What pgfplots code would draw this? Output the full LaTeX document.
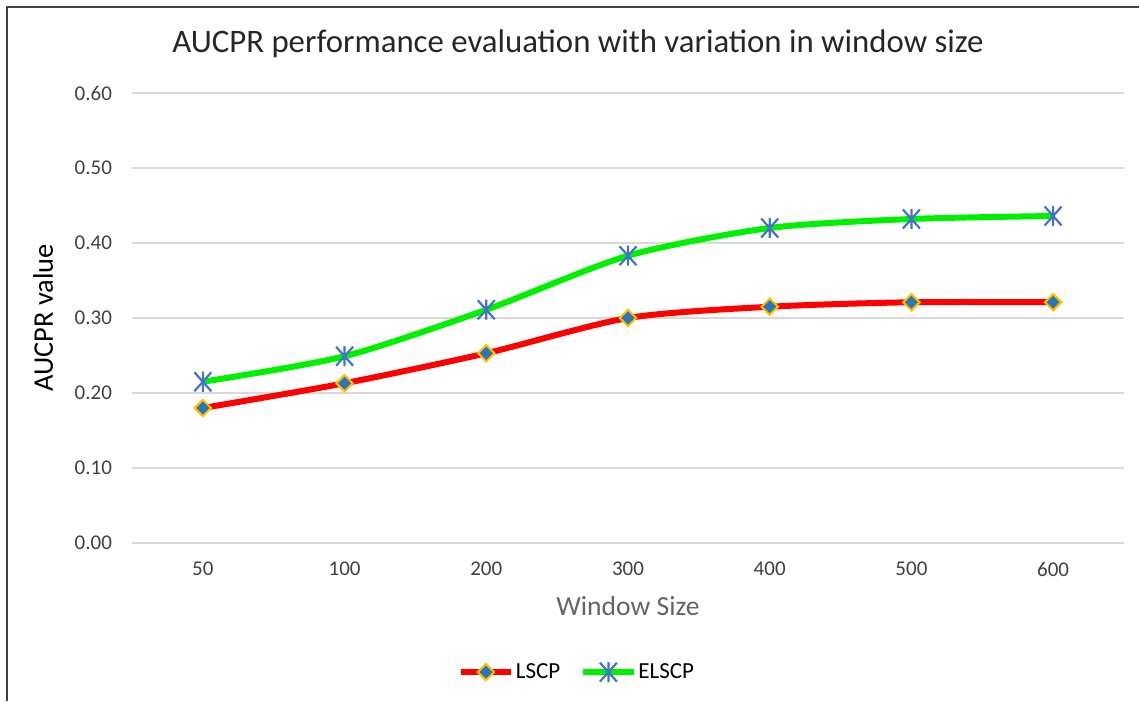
\documentclass[border=0pt]{standalone}
\usepackage{pgfplots}
\pgfplotsset{compat=1.18}
\usepackage{fontspec}
\setmainfont{Carlito}
\definecolor{gridgray}{RGB}{217,217,217}
\definecolor{lred}{RGB}{255,0,0}
\definecolor{lgreen}{RGB}{0,240,0}
\definecolor{mblue}{RGB}{46,117,182}
\definecolor{sblue}{RGB}{68,114,196}
\definecolor{mgold}{RGB}{255,192,0}
\definecolor{ticktext}{RGB}{64,64,64}
\definecolor{labgray}{RGB}{100,100,100}
\pgfdeclareplotmark{excelstar}{%
  \pgfpathmoveto{\pgfqpoint{0pt}{\pgfplotmarksize}}%
  \pgfpathlineto{\pgfqpoint{0pt}{-\pgfplotmarksize}}%
  \pgfpathmoveto{\pgfqpoint{-0.85\pgfplotmarksize}{-0.95\pgfplotmarksize}}%
  \pgfpathlineto{\pgfqpoint{0.85\pgfplotmarksize}{0.95\pgfplotmarksize}}%
  \pgfpathmoveto{\pgfqpoint{-0.85\pgfplotmarksize}{0.95\pgfplotmarksize}}%
  \pgfpathlineto{\pgfqpoint{0.85\pgfplotmarksize}{-0.95\pgfplotmarksize}}%
  \pgfusepathqstroke}
\begin{document}
\begin{tikzpicture}[x=0.5pt,y=-0.5pt]
% pixel coordinates: origin at reference pixel (132,543)
\useasboundingbox (-132,-543) rectangle (1007,158);
\draw[line width=1pt, black!75] (-125,158) -- (-125,-536) -- (1010,-536);
\begin{axis}[
  at={(0,0)}, anchor=south west,
  scale only axis,
  width=496pt, height=225pt,
  xmin=-0.5, xmax=6.5,
  ymin=0, ymax=0.6,
  ytick={0,0.1,...,0.6},
  yticklabel style={/pgf/number format/fixed,/pgf/number format/fixed zerofill,/pgf/number format/precision=2, font=\fontsize{10.5}{12}\selectfont, text=ticktext, xshift=-6.5pt},
  /pgf/number format/assume math mode=true,
  xtick={0,...,6},
  xticklabels={50,100,200,300,400,500,600},
  xticklabel style={font=\fontsize{10.5}{12}\selectfont, text=ticktext, yshift=-6pt},
  major tick length=0pt,
  axis line style={draw=none},
  ymajorgrids,
  grid style={gridgray, line width=0.8pt},
  xlabel={Window Size},
  xlabel style={font=\fontsize{13.8}{16}\selectfont, text=labgray, yshift=-3pt},
  ylabel={AUCPR value},
  ylabel style={font=\fontsize{14.2}{16}\selectfont, text=black, yshift=4pt},
  title={AUCPR performance evaluation with variation in window size},
  title style={font=\fontsize{16.4}{19}\selectfont, text=black!85, xshift=-25pt, yshift=8pt},
  legend columns=2,
  legend style={draw=none, fill=none, at={(0.5,-0.287)}, anchor=center, xshift=-25pt,
    font=\fontsize{11.5}{13}\selectfont,
    /tikz/every odd column/.append style={column sep=-1pt},
    /tikz/every even column/.append style={column sep=8pt}},
  legend image code/.code={%
    \draw[#1, mark repeat=2, mark phase=2] plot coordinates {(0cm,0cm) (0.44cm,0cm) (0.88cm,0cm)};},
  clip=false,
]
\addplot[lred, line width=3pt, smooth, tension=0.45, mark=square*,
  mark size=2.9pt, mark options={rotate=45, fill=mblue, draw=mgold, line width=1pt}]
  coordinates {(0,0.180) (1,0.213) (2,0.253) (3,0.300) (4,0.315) (5,0.321) (6,0.321)};
\addlegendentry{LSCP}
\addplot[lgreen, line width=3pt, smooth, tension=0.45, mark=excelstar,
  mark size=5pt, mark options={draw=sblue, line width=1.1pt}]
  coordinates {(0,0.215) (1,0.249) (2,0.311) (3,0.383) (4,0.420) (5,0.432) (6,0.436)};
\addlegendentry{ELSCP}
\end{axis}
\end{tikzpicture}
\end{document}
